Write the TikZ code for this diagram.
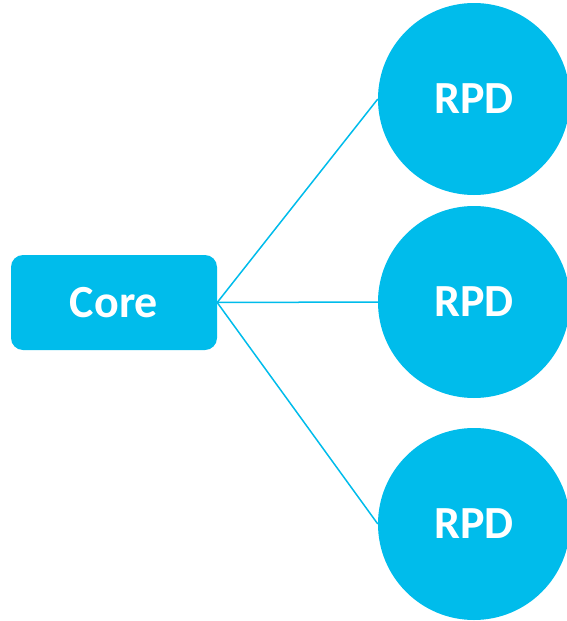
\documentclass[tikz,border=0pt]{standalone}
\usepackage{fontspec}
\setmainfont{Carlito}
\definecolor{nodecyan}{RGB}{0,188,235}
\begin{document}
\begin{tikzpicture}[x=1pt,y=-1pt,
  label text/.style={text=white,font=\bfseries\fontsize{46}{46}\selectfont},
  corebox/.style={fill=nodecyan,rounded corners=12pt,minimum width=206pt,minimum height=95pt,inner sep=0pt,label text},
  rpd/.style={circle,fill=nodecyan,minimum size=192pt,inner sep=0pt,label text},
  link/.style={draw=nodecyan,line width=1.5pt}]
  \useasboundingbox (0,0) rectangle (567,621);
  \node[corebox] (core) at (114,302.5) {Core};
  \node[rpd] (r1) at (474,99) {RPD};
  \node[rpd] (r2) at (474,302) {RPD};
  \node[rpd] (r3) at (474,524) {RPD};
  \draw[link] (core.east) -- (r1.west);
  \draw[link] (core.east) -- (r2.west);
  \draw[link] (core.east) -- (r3.west);
\end{tikzpicture}
\end{document}
